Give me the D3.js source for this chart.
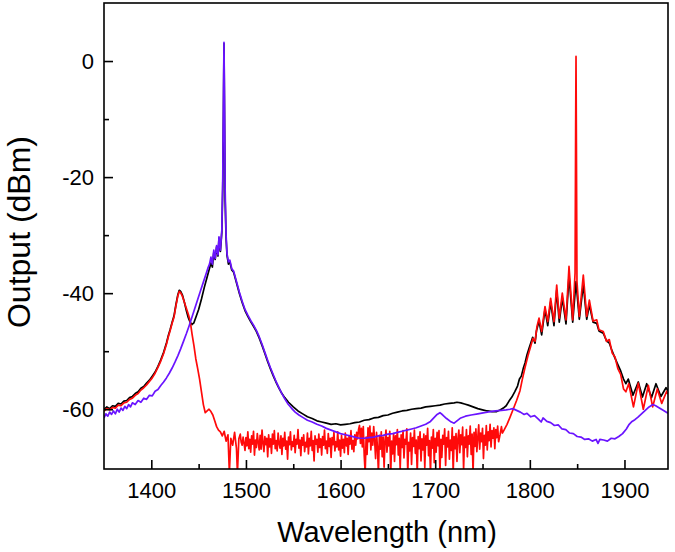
<!DOCTYPE html>
<html>
<head>
<meta charset="utf-8">
<script src="https://cdn.jsdelivr.net/npm/d3@7"></script>
<style>
  html, body { margin: 0; padding: 0; background: #fff; }
  svg { display: block; }
  text { font-family: Arial, "Liberation Sans", Helvetica, sans-serif; fill: #000; }
</style>
</head>
<body>
<svg id="chart" width="675" height="552"></svg>
<script>
// ---------- data (wavelength nm, output dBm) ----------
const xMajorTicks = [1400, 1500, 1600, 1700, 1800, 1900];
const xMinorTicks = [1450, 1550, 1650, 1750, 1850];
const yMajorTicks = [-60, -40, -20, 0];
const yMinorTicks = [-50, -30, -10];
const xLabel = "Wavelength (nm)";
const yLabel = "Output (dBm)";

const blackSeries = [[1350,-60.0],[1353,-59.6],[1356,-59.9],[1359,-59.4],[1362,-59.5],[1365,-59.0],[1368,-59.1],[1371,-58.6],[1374,-58.5],[1377,-58.0],[1380,-57.8],[1383,-57.3],[1386,-57.0],[1389,-56.4],[1392,-56.1],[1395,-55.5],[1398,-55.0],[1401,-54.3],[1404,-53.6],[1407,-52.6],[1410,-51.5],[1413,-50.2],[1416,-48.6],[1418,-47.3],[1420,-46.2],[1422,-45.0],[1424,-43.9],[1426,-42.0],[1428,-40.3],[1429.5,-39.5],[1431,-39.7],[1433,-40.4],[1435,-41.6],[1437,-43.0],[1439,-44.2],[1441,-45.0],[1443,-45.4],[1445,-45.1],[1447,-44.2],[1450,-42.8],[1453,-41.0],[1456,-39.0],[1459,-37.2],[1461,-36.0],[1463,-34.8],[1464.5,-35.5],[1466,-33.0],[1467.5,-34.2],[1469,-32.0],[1470.5,-33.6],[1471.5,-30.5],[1473,-32.8],[1474.5,-29.5],[1475.5,-22],[1476.3,-8],[1476.8,3.0],[1477.3,-8],[1478,-24],[1479,-30.5],[1480,-33.5],[1481.5,-35.0],[1483,-34.6],[1485,-36.0],[1487,-36.4],[1490,-38.2],[1493,-40.0],[1496,-41.6],[1499,-43.0],[1502,-44.0],[1505,-44.9],[1508,-45.7],[1511,-46.6],[1514,-47.7],[1517,-49.0],[1520,-50.4],[1523,-51.8],[1526,-53.1],[1529,-54.3],[1532,-55.4],[1535,-56.4],[1538,-57.3],[1541,-58.0],[1545,-58.8],[1550,-59.6],[1555,-60.3],[1560,-60.8],[1565,-61.3],[1570,-61.6],[1575,-62.0],[1580,-62.2],[1585,-62.4],[1590,-62.6],[1595,-62.5],[1600,-62.7],[1605,-62.6],[1610,-62.5],[1615,-62.3],[1620,-62.2],[1625,-61.9],[1630,-61.8],[1635,-61.5],[1640,-61.4],[1645,-61.1],[1650,-61.0],[1655,-60.7],[1660,-60.5],[1665,-60.3],[1670,-60.2],[1675,-60.0],[1680,-59.9],[1685,-59.8],[1690,-59.6],[1695,-59.5],[1700,-59.4],[1705,-59.3],[1710,-59.1],[1715,-59.0],[1720,-58.9],[1723,-58.8],[1727,-58.9],[1731,-59.1],[1735,-59.3],[1740,-59.6],[1745,-59.9],[1750,-60.1],[1755,-60.3],[1760,-60.4],[1765,-60.4],[1769,-60.1],[1772,-59.8],[1775,-59.4],[1778,-58.6],[1781,-57.9],[1784,-57.0],[1787,-56.0],[1789,-54.8],[1791,-54.3],[1793,-53.0],[1795,-52.0],[1797,-50.6],[1799,-49.6],[1801,-48.6],[1803,-47.6],[1805.5,-48.6],[1807,-46.5],[1809.7,-44.8],[1812.5,-47.2],[1816,-42.8],[1818.9,-45.6],[1822,-41.5],[1825.5,-45.6],[1828.4,-39.5],[1831.1,-45.0],[1834.3,-40.8],[1838.2,-45.3],[1841.4,-37.0],[1845.3,-45.0],[1848.8,-38.0],[1852.3,-44.5],[1856.5,-38.5],[1860.1,-44.5],[1862.9,-42.0],[1866.8,-45.0],[1870.7,-45.2],[1873,-46.5],[1877.6,-46.9],[1881,-48.2],[1884,-48.6],[1887,-50.0],[1890,-51.2],[1893,-52.3],[1896,-53.4],[1899,-54.8],[1901.5,-55.6],[1904,-54.8],[1909,-57.6],[1914.6,-55.3],[1919,-57.9],[1923.5,-55.6],[1928.5,-58.0],[1933.3,-55.6],[1938.5,-57.8],[1943.9,-56.3],[1946,-56.8]];

const redSeries = [[1350,-60.3],[1353,-59.9],[1356,-60.1],[1359,-59.7],[1362,-59.8],[1365,-59.3],[1368,-59.4],[1371,-58.9],[1374,-58.8],[1377,-58.3],[1380,-58.1],[1383,-57.6],[1386,-57.3],[1389,-56.7],[1392,-56.3],[1395,-55.8],[1398,-55.2],[1401,-54.6],[1404,-53.8],[1407,-52.8],[1410,-51.7],[1413,-50.4],[1416,-48.8],[1418,-47.5],[1420,-46.4],[1422,-45.2],[1424,-44.1],[1426,-42.2],[1428,-40.5],[1429.5,-39.7],[1431,-39.9],[1433,-40.6],[1435,-41.6],[1437,-42.6],[1439,-43.6],[1441,-44.7],[1443,-47.0],[1445,-49.0],[1447,-51.3],[1449,-53.0],[1451,-54.8],[1453,-57.0],[1455,-59.2],[1457,-60.6],[1459,-60.3],[1461,-60.0],[1463,-60.4],[1465,-61.0],[1467,-62.0],[1469,-63.0],[1471,-63.6],[1473,-63.9],[1475,-64.6],[1477,-63.8],[1479,-65.5],[1481,-64.4],[1482.5,-71],[1484,-65.0],[1486,-66.2],[1488,-64.0],[1490,-66.8],[1491,-71],[1492.5,-65.1],[1494,-64.3],[1495,-65.7],
[1496,-66.2],[1497,-64.8],[1498,-65.9],[1499,-67.1],[1500,-64.9],[1501,-66.3],[1502,-63.9],[1503,-66.8],[1504,-65.2],[1505,-67.4],[1506,-64.6],[1507,-66.0],[1508,-63.8],[1509,-67.9],[1510,-65.3],[1511,-66.6],[1512,-64.2],[1513,-65.7],[1514,-67.0],[1515,-64.5],[1516,-66.9],[1517,-63.6],[1518,-65.8],[1519,-67.3],[1520,-64.7],[1521,-66.1],[1522,-65.0],[1523,-68.2],[1524,-64.4],[1525,-66.5],[1526,-65.1],[1527,-67.6],[1528,-64.3],[1529,-66.0],[1530,-63.7],[1531,-66.8],[1532,-65.4],[1533,-67.2],[1534,-64.1],[1535,-65.9],[1536,-66.7],[1537,-64.6],[1538,-67.8],[1539,-65.0],[1540,-66.3],[1541,-64.0],[1542,-66.9],[1543,-65.5],[1544,-68.6],[1545,-64.8],[1546,-66.1],[1547,-63.9],[1548,-67.0],[1549,-65.6],[1550,-66.4],[1551,-64.5],[1552,-67.5],[1553,-65.2],[1554,-66.0],[1555,-63.5],[1556,-66.7],[1557,-65.3],[1558,-68.0],[1559,-64.9],[1560,-66.2],[1561,-64.4],[1562,-67.3],[1563,-65.7],[1564,-66.5],[1565,-64.1],[1566,-67.7],[1567,-65.0],[1568,-66.3],[1569,-63.8],[1570,-67.1],[1571,-65.4],[1572,-68.9],[1573,-64.6],[1574,-66.0],[1575,-65.2],[1576,-67.4],[1577,-64.3],[1578,-66.6],[1579,-65.1],[1580,-67.9],[1581,-64.7],[1582,-66.2],[1583,-63.6],[1584,-66.8],[1585,-65.5],[1586,-67.6],[1587,-64.2],[1588,-66.4],[1589,-65.0],[1590,-68.3],[1591,-64.9],[1592,-66.1],[1593,-64.0],[1594,-67.2],[1595,-65.6],[1596,-66.5],[1597,-63.9],[1598,-67.0],[1599,-65.3],[1600,-68.1],[1601,-64.5],[1602,-66.7],[1603,-65.2],[1604,-67.5],[1605,-64.1],[1606,-66.3],[1607,-65.0],[1608,-67.8],[1609,-64.6],[1610,-66.0],[1611,-63.7],[1612,-66.9],[1613,-65.4],[1614,-67.3],[1615,-64.4],[1616,-66.2],[1617,-64.0],[1618,-65.1],[1619,-63.5],[1620,-62.8],[1621,-65.9],[1622,-63.3],[1623,-66.5],[1624,-63.0],[1625,-68.0],[1626,-71],[1627,-64.8],[1628,-67.8],[1629,-63.2],[1630,-65.6],[1631,-62.9],[1632,-67.0],[1633,-64.1],[1634,-66.2],[1635,-63.0],[1636,-65.4],[1637,-68.5],[1638,-64.0],[1639,-66.7],[1640,-71],[1641,-64.5],[1642,-66.9],[1643,-63.9],[1644,-68.2],[1645,-64.8],[1646,-70.0],[1647,-65.3],[1648,-63.6],[1649,-67.4],[1650,-64.9],[1651,-66.3],[1652,-63.8],[1653,-71],[1654,-65.5],[1655,-67.7],[1656,-64.2],[1657,-69.0],[1658,-64.6],[1659,-66.1],[1660,-63.5],[1661,-67.9],[1662,-65.0],[1663,-70.3],[1664,-64.4],[1665,-66.6],[1666,-63.7],[1667,-68.4],[1668,-65.2],[1669,-66.0],[1670,-63.4],[1671,-71],[1672,-65.7],[1673,-67.2],[1674,-64.1],[1675,-69.5],[1676,-64.9],[1677,-66.4],[1678,-63.6],[1679,-67.6],[1680,-65.3],[1681,-71],[1682,-64.7],[1683,-66.8],[1684,-63.9],[1685,-68.9],[1686,-65.1],[1687,-67.0],[1688,-64.3],[1689,-70.1],[1690,-64.6],[1691,-66.2],[1692,-63.3],[1693,-68.0],[1694,-65.4],[1695,-71],[1696,-64.8],[1697,-66.7],[1698,-63.5],[1699,-69.2],[1700,-65.0],[1701,-67.4],[1702,-64.0],[1703,-66.3],[1704,-63.7],[1705,-71],[1706,-65.2],[1707,-68.3],[1708,-64.5],[1709,-66.0],[1710,-63.4],[1711,-69.7],[1712,-64.9],[1713,-66.5],[1714,-63.8],[1715,-68.6],[1716,-65.3],[1717,-67.1],[1718,-63.2],[1719,-71],[1720,-64.7],[1721,-66.8],[1722,-64.2],[1723,-69.0],[1724,-65.0],[1725,-63.6],[1726,-67.5],[1727,-64.4],[1728,-66.1],[1729,-63.1],[1730,-70.4],[1731,-64.8],[1732,-66.6],[1733,-63.5],[1734,-68.2],[1735,-64.6],[1736,-66.0],[1737,-62.9],[1738,-67.8],[1739,-64.3],[1740,-71],[1741,-64.0],[1742,-66.4],[1743,-63.4],[1744,-67.3],[1745,-64.9],[1746,-62.7],[1747,-66.9],[1748,-64.1],[1749,-65.6],[1750,-63.3],[1751,-68.5],[1752,-64.5],[1753,-66.2],[1754,-62.8],[1755,-67.0],[1756,-63.9],[1757,-65.4],[1758,-62.6],[1759,-66.5],[1760,-63.7],[1761,-65.0],[1762,-63.2],[1763,-66.8],[1764,-63.5],[1765,-64.9],[1766,-62.9],[1767,-65.6],
[1768.5,-64.4],[1770,-63.0],[1771,-64.1],[1773,-63.5],[1775.9,-62.6],[1779,-61.4],[1782.2,-60.1],[1786,-58.5],[1789.6,-56.8],[1792,-54.9],[1794.9,-52.8],[1798,-50.8],[1801,-49.1],[1803.3,-47.8],[1805.5,-48.3],[1807.5,-45.8],[1809.7,-44.3],[1812.5,-46.6],[1816,-42.3],[1818.9,-44.9],[1822,-40.9],[1825.5,-44.9],[1828.4,-38.6],[1831.1,-44.3],[1834.3,-40.0],[1838.2,-44.6],[1841.4,-35.4],[1845.3,-44.6],[1847.8,-36.5],[1848.4,-12],[1848.8,0.8],[1849.2,-14],[1849.8,-38],[1852.3,-44.0],[1856.5,-36.9],[1860.1,-44.0],[1862.9,-41.2],[1866.8,-44.8],[1870.7,-44.6],[1873,-46.3],[1877.6,-46.6],[1881,-48.3],[1884,-48.0],[1887,-50.3],[1890,-51.0],[1893,-53.0],[1896,-54.0],[1899,-56.5],[1901.5,-57.0],[1904.5,-55.6],[1909.5,-59.6],[1914.6,-55.5],[1919.9,-60.0],[1925.2,-55.9],[1929.8,-59.6],[1934.7,-56.5],[1939.4,-59.0],[1944.6,-56.9],[1946,-57.4]];

const purpleSeries = [[1350,-61.5],[1352,-60.8],[1354,-61.2],[1356,-60.5],[1358,-60.9],[1360,-60.3],[1362,-60.8],[1364,-60.0],[1366,-60.5],[1368,-59.8],[1370,-60.2],[1372,-59.5],[1374,-59.9],[1376,-59.2],[1378,-59.6],[1380,-58.9],[1383,-59.2],[1386,-58.5],[1389,-58.8],[1392,-58.1],[1395,-58.3],[1398,-57.6],[1401,-57.7],[1404,-56.9],[1407,-56.6],[1410,-55.9],[1413,-55.3],[1416,-54.6],[1419,-53.8],[1422,-52.9],[1425,-51.9],[1428,-50.8],[1431,-49.6],[1434,-48.3],[1437,-47.0],[1440,-45.6],[1443,-44.1],[1446,-42.6],[1449,-41.1],[1452,-39.6],[1455,-38.1],[1458,-36.6],[1460,-35.6],[1461.5,-35.0],[1463,-33.8],[1464.5,-35.0],[1466,-32.6],[1467.5,-34.0],[1469,-31.8],[1470.5,-33.4],[1471.5,-30.3],[1473,-32.6],[1474.5,-29.2],[1475.5,-20],[1476.3,-5],[1476.8,3.2],[1477.3,-6],[1478,-22],[1479,-30],[1480,-33.2],[1481.5,-34.6],[1483,-34.3],[1485,-35.8],[1487,-36.2],[1490,-38.0],[1493,-39.8],[1496,-41.4],[1499,-42.8],[1502,-43.8],[1505,-44.7],[1508,-45.5],[1511,-46.4],[1514,-47.5],[1517,-48.8],[1520,-50.2],[1523,-51.6],[1526,-52.9],[1529,-54.1],[1532,-55.3],[1535,-56.3],[1538,-57.3],[1541,-58.2],[1544,-59.0],[1548,-59.8],[1552,-60.5],[1556,-61.0],[1560,-61.4],[1565,-61.9],[1570,-62.2],[1575,-62.6],[1580,-62.9],[1585,-63.3],[1590,-63.6],[1595,-63.9],[1600,-64.2],[1605,-64.4],[1610,-64.6],[1615,-64.8],[1620,-65.0],[1625,-65.0],[1630,-64.9],[1635,-64.8],[1640,-64.6],[1645,-64.5],[1650,-64.3],[1655,-64.2],[1660,-64.0],[1665,-63.8],[1670,-63.6],[1675,-63.4],[1680,-63.2],[1685,-62.9],[1690,-62.6],[1695,-62.1],[1699,-61.4],[1702,-60.9],[1705,-60.6],[1708,-61.0],[1712,-61.6],[1716,-62.1],[1720,-62.4],[1723,-62.0],[1727,-61.5],[1732,-61.2],[1738,-61.0],[1745,-60.8],[1752,-60.6],[1758,-60.4],[1764,-60.3],[1770,-60.2],[1775,-60.1],[1779,-60.0],[1782,-59.9],[1786,-60.2],[1790,-60.5],[1794,-60.9],[1797,-60.7],[1801,-61.3],[1805,-61.1],[1809,-61.7],[1812,-62.2],[1814,-61.5],[1818,-62.1],[1822,-62.3],[1826,-62.8],[1830,-62.7],[1834,-63.4],[1838,-63.5],[1842,-64.1],[1846,-64.2],[1850,-64.7],[1854,-64.8],[1858,-65.2],[1862,-65.1],[1866,-65.5],[1870,-65.2],[1872,-65.9],[1874,-65.2],[1878,-65.3],[1882,-65.5],[1886,-65.0],[1890,-65.1],[1894,-64.7],[1898,-64.2],[1902,-63.4],[1905,-62.6],[1908,-62.1],[1911,-61.8],[1914,-61.4],[1918,-60.8],[1922,-60.2],[1926,-59.6],[1930,-59.2],[1933,-59.4],[1936,-59.7],[1940,-60.1],[1943,-60.4],[1946,-60.7]];

const seriesList = [
  { name: "black", data: blackSeries, color: "#000000" },
  { name: "red", data: redSeries, color: "#ff0a0a" },
  { name: "purple", data: purpleSeries, color: "#6a14ff" }
];

// ---------- layout ----------
const svg = d3.select("#chart");
const plot = { left: 104, right: 668, top: 3, bottom: 469 };

const x = d3.scaleLinear().domain([1350, 1946]).range([plot.left, plot.right]);
const y = d3.scaleLinear().domain([-70.3, 10]).range([plot.bottom, plot.top]);

svg.append("defs").append("clipPath").attr("id", "clip")
  .append("rect")
  .attr("x", plot.left).attr("y", plot.top)
  .attr("width", plot.right - plot.left).attr("height", plot.bottom - plot.top);

const line = d3.line().x(d => x(d[0])).y(d => y(d[1]));

const g = svg.append("g").attr("clip-path", "url(#clip)");
seriesList.forEach(s => {
  g.append("path")
    .datum(s.data)
    .attr("fill", "none")
    .attr("stroke", s.color)
    .attr("stroke-width", 1.7)
    .attr("stroke-linejoin", "round")
    .attr("d", line);
});

// ---------- axes ----------
const axisStroke = 1.6;

const xAxis = svg.append("g")
  .attr("transform", `translate(0,${plot.bottom})`)
  .call(d3.axisBottom(x).tickValues(xMajorTicks).tickSize(-9).tickPadding(13).tickFormat(d3.format("d")));
const xMinor = svg.append("g")
  .attr("transform", `translate(0,${plot.bottom})`)
  .call(d3.axisBottom(x).tickValues(xMinorTicks).tickSize(-5).tickFormat(""));

const yAxis = svg.append("g")
  .attr("transform", `translate(${plot.left},0)`)
  .call(d3.axisLeft(y).tickValues(yMajorTicks).tickSize(-9).tickPadding(10).tickFormat(d3.format("d")));
const yMinor = svg.append("g")
  .attr("transform", `translate(${plot.left},0)`)
  .call(d3.axisLeft(y).tickValues(yMinorTicks).tickSize(-5).tickFormat(""));

[xAxis, xMinor, yAxis, yMinor].forEach(a => {
  a.select(".domain").remove();
  a.selectAll(".tick line").attr("stroke", "#000").attr("stroke-width", axisStroke);
  a.selectAll("text").attr("font-size", 22).attr("fill", "#000")
    .style("font-family", 'Arial, "Liberation Sans", Helvetica, sans-serif');
});
yAxis.selectAll("text").text(d => String(d));

// frame
svg.append("rect")
  .attr("x", plot.left).attr("y", plot.top)
  .attr("width", plot.right - plot.left).attr("height", plot.bottom - plot.top)
  .attr("fill", "none").attr("stroke", "#000").attr("stroke-width", axisStroke);

// titles
svg.append("text")
  .attr("x", (plot.left + plot.right) / 2 + 1)
  .attr("y", 542)
  .attr("text-anchor", "middle")
  .attr("font-size", 29)
  .text(xLabel);

svg.append("text")
  .attr("transform", "translate(29.5,232) rotate(-90)")
  .attr("text-anchor", "middle")
  .attr("font-size", 32)
  .text(yLabel);
</script>
</body>
</html>
